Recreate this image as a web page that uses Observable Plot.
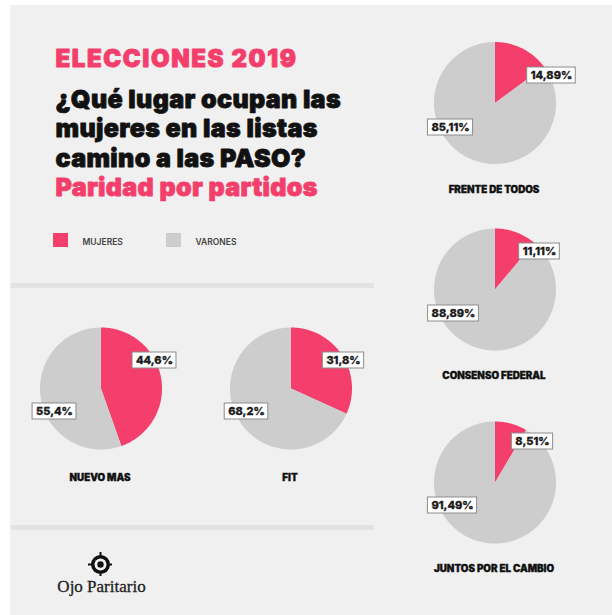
<!DOCTYPE html>
<html><head><meta charset="utf-8">
<script src="https://cdn.jsdelivr.net/npm/d3@7"></script>
<script src="https://cdn.jsdelivr.net/npm/@observablehq/plot@0.6"></script>
<style>
html,body{margin:0;padding:0;background:#fff;}
#wrap{position:relative;width:612px;height:615px;overflow:hidden;}
#panel{position:absolute;left:10px;top:5px;right:0;bottom:0;background:#f0f0f0;}
#chart{position:absolute;left:0;top:0;}
</style></head><body>
<div id="wrap"><div id="panel"></div><div id="chart"></div></div>
<script>
// ---- data ----
const parties = ["FRENTE DE TODOS", "CONSENSO FEDERAL", "JUNTOS POR EL CAMBIO", "NUEVO MAS", "FIT"];
const mujeres = [14.89, 11.11, 8.51, 44.6, 31.8];
const varones = [85.11, 88.89, 91.49, 55.4, 68.2];
const labelsMujeres = ["14,89%", "11,11%", "8,51%", "44,6%", "31,8%"];
const labelsVarones = ["85,11%", "88,89%", "91,49%", "55,4%", "68,2%"];
const legendKeys = ["MUJERES", "VARONES"];
const kicker = "ELECCIONES 2019";
const titleLines = ["¿Qué lugar ocupan las", "mujeres en las listas", "camino a las PASO?"];
const subtitle = "Paridad por partidos";
const brand = "Ojo Paritario";

// ---- layout ----
const PINK = "#f43f6c", GRAY = "#cdcdcd";
const R = 61;
const cx = [494.5, 494.5, 494.5, 100.5, 290.5];
const cy = [102.5, 289, 482, 388, 388];
const nameY = [192.5, 378.5, 571.5, 480.5, 480.5];
const offM = [[56.5, -27.5], [44.5, -38], [37.5, -41], [53.5, -28], [52.5, -28]];
const offV = [[-44.5, 24.5], [-41.5, 24], [-42.5, 23], [-46.5, 23], [-44.5, 23]];

// slice polygons from values
const slices = [];
parties.forEach((p, i) => {
  const vals = [mujeres[i], varones[i]];
  let start = 0;
  vals.forEach((v, k) => {
    const a0 = start, a1 = start + 2 * Math.PI * v / 100;
    const id = p + "-" + k;
    slices.push({id, key: legendKeys[k], x: cx[i], y: cy[i]});
    const n = Math.max(2, Math.ceil((a1 - a0) / (Math.PI / 180)));
    for (let s = 0; s <= n; s++) {
      const a = a0 + (a1 - a0) * s / n;
      slices.push({id, key: legendKeys[k], x: cx[i] + R * Math.sin(a), y: cy[i] - R * Math.cos(a)});
    }
    start = a1;
  });
});

// labels
const LFONT = "800 11px Inter";
const ctx = document.createElement("canvas").getContext("2d");
ctx.font = LFONT;
const labels = [];
parties.forEach((p, i) => {
  [[labelsMujeres[i], offM[i]], [labelsVarones[i], offV[i]]].forEach(([t, o]) => {
    const w = ctx.measureText(t).width + 7;
    const x = cx[i] + o[0], y = cy[i] + o[1];
    labels.push({t, x, y, x1: x - w / 2, x2: x + w / 2, y1: y - 8, y2: y + 8});
  });
});

const legend = legendKeys.map((k, i) => ({k, x: [53, 166][i]}));

const heavy = (color, w) => ({fill: color, stroke: color, strokeWidth: w, strokeLinejoin: "round"});

const chart = Plot.plot({
  width: 612, height: 615, margin: 0,
  x: {domain: [0, 612], range: [0, 612], axis: null},
  y: {domain: [0, 615], range: [0, 615], axis: null},
  color: {domain: legendKeys, range: [PINK, GRAY]},
  style: {background: "transparent", overflow: "visible"},
  marks: [
    // separators
    Plot.ruleY([285], {x1: 11, x2: 374, stroke: "#e3e3e3", strokeWidth: 5}),
    Plot.ruleY([527], {x1: 11, x2: 374, stroke: "#e3e3e3", strokeWidth: 5}),
    // titles
    Plot.text([kicker], {x: 55, y: 66, text: d => d, textAnchor: "start", lineAnchor: "bottom", fontSize: 24, fontWeight: 900, fontFamily: "Inter", ...heavy(PINK, 0.9)}),
    Plot.text(titleLines, {x: 55, y: (d, i) => 107.5 + i * 29.3, text: d => d, textAnchor: "start", lineAnchor: "bottom", fontSize: 25, fontWeight: 900, fontFamily: "Inter", ...heavy("#111", 0.8)}),
    Plot.text([subtitle], {x: 55, y: 195, text: d => d, textAnchor: "start", lineAnchor: "bottom", fontSize: 25, fontWeight: 900, fontFamily: "Inter", ...heavy(PINK, 0.8)}),
    // legend
    Plot.rect(legend, {x1: d => d.x, x2: d => d.x + 15, y1: 233, y2: 247, fill: "k"}),
    Plot.text(legend, {x: d => d.x + 29, y: 244, text: "k", textAnchor: "start", lineAnchor: "bottom", fontSize: 8.5, fontWeight: 600, fontFamily: "Inter", fill: "#444"}),
    // pies
    Plot.line(slices, {x: "x", y: "y", z: "id", fill: "key", stroke: "none", curve: "linear-closed"}),
    // labels
    Plot.rect(labels, {x1: "x1", x2: "x2", y1: "y1", y2: "y2", fill: "white", stroke: "#8c8c8c", strokeWidth: 1}),
    Plot.text(labels, {x: "x", y: "y", text: "t", fontSize: 11, fontWeight: 800, fontFamily: "Inter", ...heavy("#1a1a1a", 0.3)}),
    // party names
    Plot.text(parties, {x: (d, i) => cx[i] - 1, y: (d, i) => nameY[i], text: d => d, lineAnchor: "bottom", fontSize: 9.8, fontWeight: 900, fontFamily: "Inter", ...heavy("#111", 0.35)}),
    // logo
    Plot.dot([0], {x: 100, y: 564, r: 9.5, fill: "#111"}),
    Plot.ruleX([100], {y1: 552, y2: 576, stroke: "#111", strokeWidth: 2}),
    Plot.ruleY([564], {x1: 88, x2: 112, stroke: "#111", strokeWidth: 2}),
    Plot.dot([0], {x: 100, y: 564, r: 6, fill: "#f0f0f0"}),
    Plot.dot([0], {x: 100, y: 564, r: 3.2, fill: "#111"}),
    Plot.text([brand], {x: 101, y: 591, text: d => d, lineAnchor: "bottom", fontSize: 17, fontFamily: "Liberation Serif", ...heavy("#222", 0.3)})
  ]
});
// letter spacing tweaks (Plot.text has no letterSpacing option)
const spacing = new Map([[kicker, "1.6px"], [subtitle, "0.35px"], ...titleLines.map(t => [t, "0.35px"])]);
d3.select(chart).selectAll("text").each(function () {
  const s = spacing.get(this.textContent);
  if (s) this.style.letterSpacing = s;
});
document.getElementById("chart").appendChild(chart);
</script>
</body></html>
